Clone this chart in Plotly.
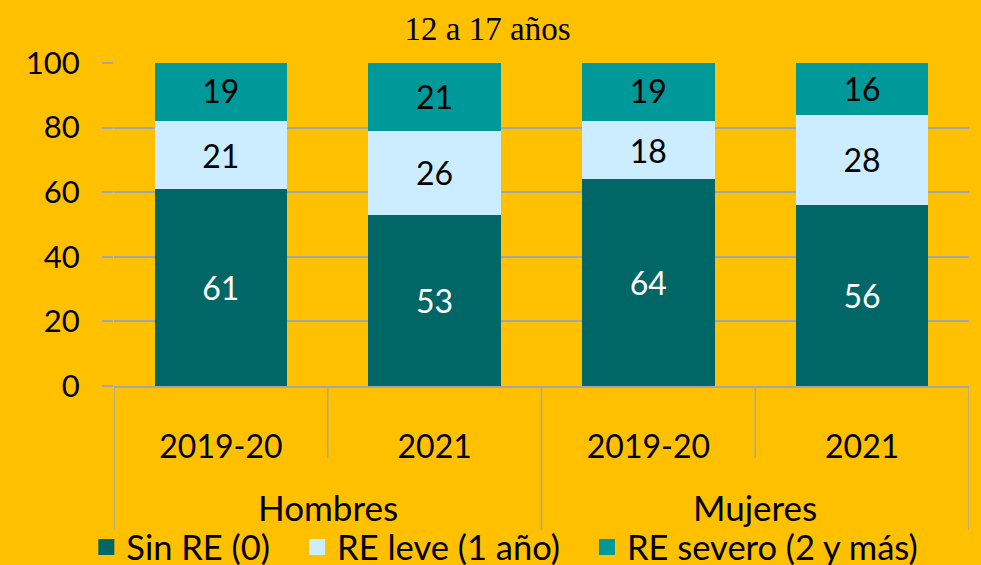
import plotly.graph_objects as go

# Data (percentages)
genders = ["Hombres", "Hombres", "Mujeres", "Mujeres"]
periods = ["2019-20", "2021", "2019-20", "2021"]

sin_re = [61, 53, 64, 56]
re_leve = [21, 26, 18, 28]
re_severo = [19, 21, 19, 16]

series_names = ["Sin RE (0)", "RE leve (1 año)", "RE severo (2 y más)"]
series_colors = ["#006666", "#CCECFF", "#009999"]
label_colors = ["white", "black", "black"]

BG = "#FFC000"
GRID = "#A6A6A6"
FONT = "Lato"
PLOT_H = 565 - 63 - 179  # plot area height in px

categories = [f"{g} {p}" for g, p in zip(genders, periods)]

fig = go.Figure()

n_series = len(series_names)
for k, (name, values, color, tcolor) in enumerate(
    zip(series_names, [sin_re, re_leve, re_severo], series_colors, label_colors)
):
    fig.add_trace(
        go.Bar(
            x=categories,
            y=values,
            name=name,
            marker=dict(color=color, line=dict(width=0)),
            text=values,
            textposition="inside",
            insidetextanchor="middle",
            textfont=dict(family=FONT, size=32, color=tcolor),
            showlegend=False,
            hoverinfo="skip",
        )
    )
    # legend proxy with a larger square symbol; padding widens the gap between entries
    pad = "\u00a0\u00a0\u2009" if k < n_series - 1 else ""
    fig.add_trace(
        go.Scatter(
            x=[None],
            y=[None],
            mode="markers",
            name=name + pad,
            marker=dict(symbol="square", size=16, color=color),
        )
    )

# group labels (Hombres / Mujeres) and category separators below the axis
group_names = []
for g in genders:
    if g not in group_names:
        group_names.append(g)
for g in group_names:
    idx = [i for i, gg in enumerate(genders) if gg == g]
    fig.add_annotation(
        x=(idx[0] + idx[-1]) / 2,
        xref="x",
        y=-121 / PLOT_H,
        yref="paper",
        text=g,
        showarrow=False,
        yanchor="middle",
        font=dict(family=FONT, size=35, color="black"),
    )

for i in range(len(categories) + 1):
    edge = i - 0.5
    outer = i == 0 or i == len(categories) or genders[i - 1] != genders[i]
    depth = 144 if outer else 72
    fig.add_shape(
        type="line",
        xref="x",
        yref="paper",
        x0=edge,
        x1=edge,
        y0=0,
        y1=-depth / PLOT_H,
        line=dict(color=GRID, width=1.5),
        layer="below",
    )

fig.update_layout(
    barmode="stack",
    bargap=0.38,
    width=981,
    height=565,
    paper_bgcolor=BG,
    plot_bgcolor=BG,
    margin=dict(l=114, r=12, t=63, b=179, autoexpand=False),
    font=dict(family=FONT, size=31, color="black"),
    title=dict(
        text="12 a 17 años",
        font=dict(family="Liberation Serif", size=33, color="black"),
        x=0.497,
        xref="container",
        xanchor="center",
        y=0.95,
        yref="container",
        yanchor="middle",
    ),
    legend=dict(
        orientation="h",
        traceorder="normal",
        xref="container",
        x=0.088,
        xanchor="left",
        y=-161 / PLOT_H,
        yref="paper",
        yanchor="middle",
        font=dict(family=FONT, size=34.5),
        bgcolor="rgba(0,0,0,0)",
        itemclick=False,
    ),
    showlegend=True,
)

fig.update_yaxes(
    range=[0, 100],
    dtick=20,
    showgrid=True,
    gridcolor=GRID,
    gridwidth=1.5,
    zeroline=False,
    showline=False,
    ticks="outside",
    ticklen=11,
    tickcolor=GRID,
    tickwidth=1.5,
    ticklabelstandoff=16,
    tickfont=dict(family=FONT, size=31),
)

fig.update_xaxes(
    type="category",
    range=[-0.5, len(categories) - 0.5],
    tickvals=categories,
    ticktext=periods,
    showline=True,
    linecolor=GRID,
    linewidth=1.5,
    ticks="",
    ticklabelstandoff=32,
    tickfont=dict(family=FONT, size=32),
)

fig.write_html(
    "out.html",
    config={"displayModeBar": False},
    post_script="document.body.style.margin='0';",
)
